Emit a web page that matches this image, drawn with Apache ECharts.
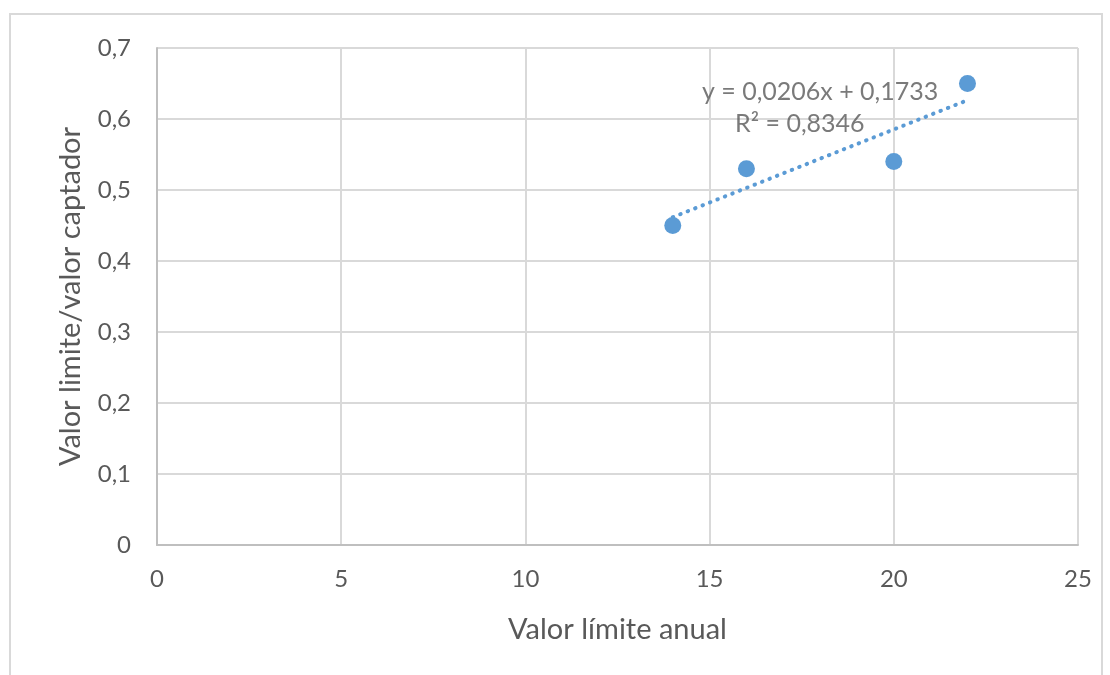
<!DOCTYPE html>
<html><head><meta charset="utf-8">
<script src="https://cdn.jsdelivr.net/npm/echarts@6/dist/echarts.min.js"></script>
<style>html,body{margin:0;padding:0;background:#fff}#c{width:1110px;height:675px}</style>
</head><body><div id="c"></div>
<script>
const xValues = [14, 16, 20, 22];
const yValues = [0.45, 0.53, 0.54, 0.65];
const trendSlope = 0.0206;
const trendIntercept = 0.1733;
const equationText = 'y = 0,0206x + 0,1733';
const r2Text = 'R² = 0,8346';
const xTitle = 'Valor límite anual';
const yTitle = 'Valor limite/valor captador';

const FONT = 'Lato, "Open Sans", sans-serif';
const points = xValues.map((x, i) => [x, yValues[i]]);
const xMin = Math.min(...xValues), xMax = Math.max(...xValues);
const trend = [[xMin, trendSlope * xMin + trendIntercept], [xMax, trendSlope * xMax + trendIntercept]];

const chart = echarts.init(document.getElementById('c'));
chart.setOption({
  animation: false,
  backgroundColor: '#fff',
  graphic: [{type: 'rect', shape: {x: 10, y: 14, width: 1092, height: 700}, style: {fill: 'none', stroke: '#d9d9d9', lineWidth: 2}, silent: true, z: -1}],
  grid: {left: 157, right: 32, top: 48, bottom: 130},
  xAxis: {
    type: 'value', min: 0, max: 25, interval: 5,
    name: xTitle, nameLocation: 'middle', nameGap: 70,
    nameTextStyle: {fontFamily: FONT, fontSize: 29, color: '#595959'},
    axisLine: {show: true, lineStyle: {color: '#bfbfbf', width: 2}},
    axisTick: {show: false},
    axisLabel: {fontFamily: FONT, fontSize: 24, color: '#595959', margin: 22},
    splitLine: {show: true, lineStyle: {color: '#d9d9d9', width: 2}}
  },
  yAxis: {
    type: 'value', min: 0, max: 0.7, interval: 0.1,
    name: yTitle, nameLocation: 'middle', nameGap: 72,
    nameTextStyle: {fontFamily: FONT, fontSize: 29, color: '#595959'},
    axisLine: {show: true, lineStyle: {color: '#bfbfbf', width: 2}},
    axisTick: {show: false},
    axisLabel: {fontFamily: FONT, fontSize: 24, color: '#595959', margin: 26,
      formatter: v => v === 0 ? '0' : v.toFixed(1).replace('.', ',')},
    splitLine: {show: true, lineStyle: {color: '#d9d9d9', width: 2}}
  },
  series: [
    {type: 'line', data: trend, symbol: 'none', silent: true,
      lineStyle: {color: '#5b9bd5', width: 4, type: [0.5, 7.5], cap: 'round'}, z: 2},
    {type: 'scatter', data: points, symbolSize: 17, itemStyle: {color: '#5b9bd5', opacity: 1}, z: 3},
    {type: 'scatter', symbolSize: 0, silent: true, z: 4,
      data: [
        {value: [18.0, 0.638], label: {formatter: equationText}},
        {value: [17.45, 0.593], label: {formatter: r2Text}}
      ],
      label: {show: true, position: 'inside', fontFamily: FONT, fontSize: 25, color: '#595959'}}
  ]
});
</script></body></html>
